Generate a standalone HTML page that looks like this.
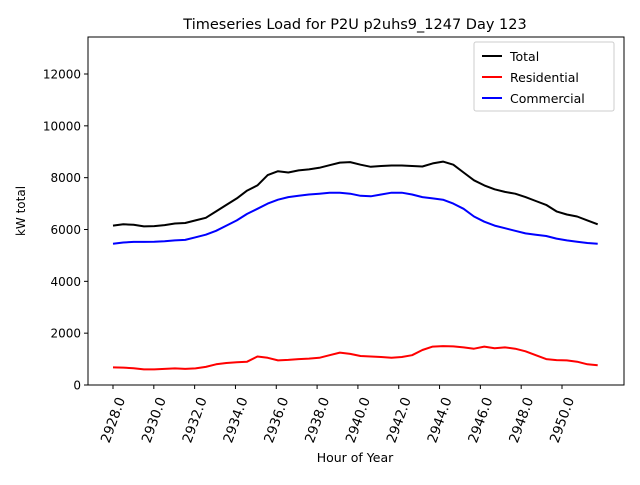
<!DOCTYPE html>
<html><head><meta charset="utf-8"><style>
body{margin:0;background:#fff;}
svg{font-family:"DejaVu Sans","Liberation Sans",sans-serif;}
</style></head><body>
<svg id="chart" width="640" height="480" viewBox="0 0 640 480" xmlns="http://www.w3.org/2000/svg">
<rect width="640" height="480" fill="#fff"/>
<text x="355" y="29" font-size="14.5" text-anchor="middle">Timeseries Load for P2U p2uhs9_1247  Day 123</text>
<rect x="88" y="37" width="536" height="348" fill="none" stroke="#000" stroke-width="1"/>
<g id="xticks"></g><g id="yticks"></g><g id="series"></g>
<text x="355" y="462" font-size="12.5" text-anchor="middle">Hour of Year</text>
<text x="25" y="211" font-size="12" text-anchor="middle" transform="rotate(-90 25 211)">kW total</text>
<g>
<rect x="474" y="42" width="140" height="69" fill="#fff" stroke="#ccc" rx="2"/>
<line x1="482" y1="56" x2="502" y2="56" stroke="#000" stroke-width="2"/>
<text x="510" y="61" font-size="12.5">Total</text>
<line x1="482" y1="77" x2="502" y2="77" stroke="#f00" stroke-width="2"/>
<text x="510" y="82" font-size="12.5">Residential</text>
<line x1="482" y1="98" x2="502" y2="98" stroke="#00f" stroke-width="2"/>
<text x="510" y="103" font-size="12.5">Commercial</text>
</g>
</svg>
<script>
const xTicks=[2928,2930,2932,2934,2936,2938,2940,2942,2944,2946,2948,2950];
const yTicks=[0,2000,4000,6000,8000,10000,12000];
const hourStart=2928, hourEnd=2951.75;
const total=[6150,6200,6180,6120,6130,6170,6230,6250,6350,6450,6700,6950,7200,7500,7700,8100,8250,8200,8280,8320,8380,8480,8580,8600,8500,8420,8450,8470,8470,8450,8430,8550,8620,8500,8200,7900,7700,7550,7450,7380,7250,7100,6950,6700,6580,6500,6350,6200];
const commercial=[5450,5500,5520,5520,5530,5550,5580,5600,5700,5800,5950,6150,6350,6600,6800,7000,7150,7250,7300,7350,7380,7420,7420,7380,7300,7280,7350,7420,7420,7350,7250,7200,7150,7000,6800,6500,6300,6150,6050,5950,5850,5800,5750,5650,5580,5530,5480,5450];
const residential=[680,670,650,600,600,620,640,620,640,700,800,850,880,900,1100,1050,950,970,1000,1020,1050,1150,1250,1200,1120,1100,1080,1050,1080,1150,1350,1480,1500,1490,1450,1400,1480,1420,1450,1400,1300,1150,1000,960,950,900,800,760];
const NS='http://www.w3.org/2000/svg';
function xs(h){return 113+(h-2928)*(562-113)/22;}
function ys(v){return 385-v*(385-74)/12000;}
function mk(t,a,p){const e=document.createElementNS(NS,t);for(const k in a)e.setAttribute(k,a[k]);p.appendChild(e);return e;}
const gx=document.getElementById('xticks');
xTicks.forEach(t=>{const x=xs(t);
 const l=mk('line',{x1:x,y1:385,x2:x,y2:389,stroke:'#000'},gx);
 
 
 const cy=420;
 const tx=mk('text',{x:x,y:cy+4.5,'font-size':'13.5','text-anchor':'middle',transform:`rotate(-70 ${x} ${cy})`},gx);
 tx.textContent=t.toFixed(1);
 
 
});
const gy=document.getElementById('yticks');
yTicks.forEach(t=>{const y=ys(t);
 const l=mk('line',{x1:84,y1:y,x2:88,y2:y,stroke:'#000'},gy);
 
 
 const tx=mk('text',{x:81,y:y+4.5,'font-size':'12','text-anchor':'end'},gy);
 tx.textContent=t;
 
 
});
const gs=document.getElementById('series');
function draw(arr,color,name){
 const n=arr.length;
 const pts=arr.map((v,i)=>xs(hourStart+i*(hourEnd-hourStart)/(n-1)).toFixed(1)+','+ys(v).toFixed(1)).join(' ');
 const p=mk('polyline',{points:pts,fill:'none',stroke:color,'stroke-width':'2','stroke-linejoin':'round'},gs);
 
 
}
draw(total,'#000','total-line');
draw(residential,'#f00','residential-line');
draw(commercial,'#00f','commercial-line');
</script>
</body></html>
